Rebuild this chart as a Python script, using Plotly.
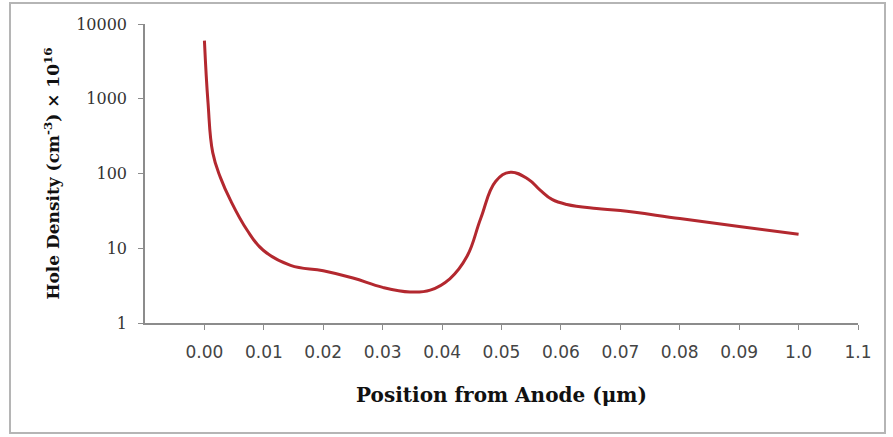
import plotly.graph_objects as go

# Hole density profile along the device, measured from the anode
position_um = [0.0, 0.0006, 0.0014, 0.0027, 0.0044, 0.0072, 0.0099,
               0.0145, 0.02, 0.025, 0.03, 0.0346, 0.038, 0.0413,
               0.0442, 0.0465, 0.049, 0.0515, 0.0545, 0.0565, 0.0585,
               0.061, 0.066, 0.07, 0.08, 0.09, 0.10]
hole_density = [6000, 900, 190, 88, 43.6, 17.4, 9.4,
                5.9, 5.0, 4.0, 3.0, 2.6, 2.75, 3.9,
                7.8, 25, 78, 104, 84, 60, 45,
                38.5, 34, 32, 25, 19.6, 15.4]

x_tick_vals = [0.00, 0.01, 0.02, 0.03, 0.04, 0.05, 0.06, 0.07, 0.08, 0.09, 0.10, 0.11]
x_tick_text = ["0.00", "0.01", "0.02", "0.03", "0.04", "0.05", "0.06", "0.07",
               "0.08", "0.09", "1.0", "1.1"]
y_tick_vals = [1, 10, 100, 1000, 10000]
y_tick_text = ["1", "10", "100", "1000", "10000"]

W, H = 893, 437
ML, MR, MT, MB = 145, 35, 24, 114
pw, ph = W - ML - MR, H - MT - MB

fig = go.Figure()
fig.add_trace(go.Scatter(
    x=position_um, y=hole_density, mode="lines",
    line=dict(color="#b3282f", width=3, shape="spline", smoothing=1.2),
    showlegend=False, hoverinfo="x+y",
))

axis_grey = "#8c8c8c"
fig.update_xaxes(
    range=[-0.01, 0.11], tickvals=x_tick_vals, ticktext=x_tick_text,
    showgrid=False, zeroline=False, showline=True, linecolor=axis_grey, linewidth=1.5,
    ticks="outside", ticklen=5, tickcolor=axis_grey, tickwidth=1,
    ticklabelstandoff=8,
    tickfont=dict(family="DejaVu Sans", size=17, color="#444"),
    title=dict(text="Position from Anode (μm)", standoff=27,
               font=dict(family="DejaVu Serif", size=20, color="#111", weight="bold")),
)
fig.update_yaxes(
    type="log", range=[0, 4], tickvals=y_tick_vals, ticktext=y_tick_text,
    showgrid=False, zeroline=False, showline=True, linecolor=axis_grey, linewidth=1.5,
    ticks="outside", ticklen=5, tickcolor=axis_grey, tickwidth=1,
    ticklabelstandoff=8,
    tickfont=dict(family="DejaVu Serif", size=16, color="#333"),
    title=dict(text="Hole Density (cm<sup>-3</sup>) × 10<sup>16</sup>", standoff=12,
               font=dict(family="DejaVu Serif", size=17, color="#111", weight="bold")),
)

# Outer frame around the whole chart (pixel bounds converted to paper units)
def px_x(p):
    return (p - ML) / pw

def px_y(p):
    return 1 - (p - MT) / ph

fig.add_shape(type="rect", xref="paper", yref="paper",
              x0=px_x(10), x1=px_x(885), y0=px_y(433), y1=px_y(3),
              line=dict(color="#b5b5b5", width=2), layer="below")

fig.update_layout(
    width=W, height=H,
    margin=dict(l=ML, r=MR, t=MT, b=MB, autoexpand=False),
    paper_bgcolor="white", plot_bgcolor="white",
)

fig.write_html("out.html")
